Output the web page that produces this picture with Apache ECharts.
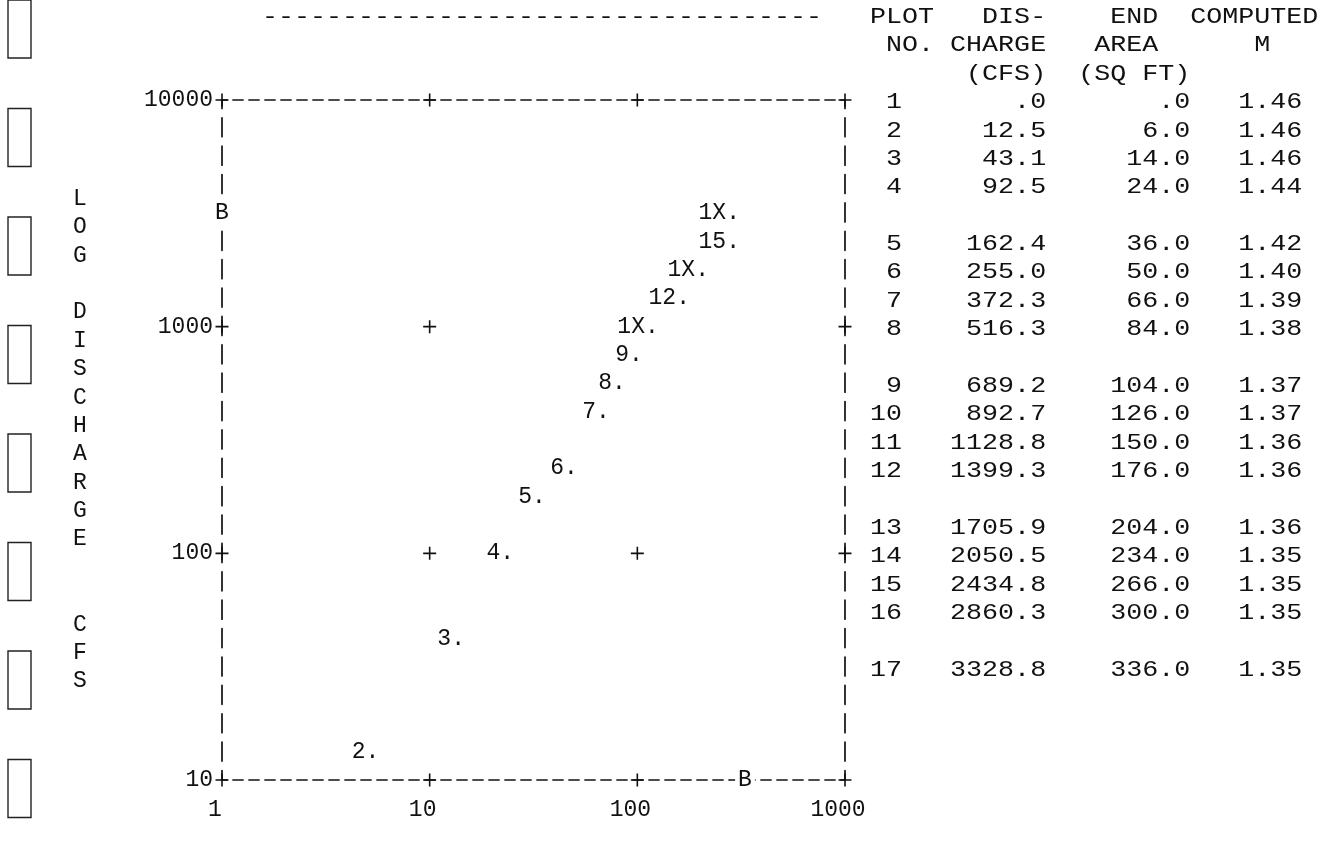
<!DOCTYPE html>
<html>
<head>
<meta charset="utf-8">
<title>Log discharge vs end area</title>
<script src="https://cdn.jsdelivr.net/npm/echarts@6/dist/echarts.min.js"></script>
<style>
    html, body { margin: 0; padding: 0; background: #fff; }
    #main { width: 1333px; height: 849px; }
</style>
</head>
<body>
<div id="main"></div>
<script>
// table printed to the right of the plot
var plotNo = [1, 2, 3, 4, 5, 6, 7, 8, 9, 10, 11, 12, 13, 14, 15, 16, 17];
var discharge = [0, 12.5, 43.1, 92.5, 162.4, 255.0, 372.3, 516.3, 689.2, 892.7, 1128.8, 1399.3, 1705.9, 2050.5, 2434.8, 2860.3, 3328.8];
var endArea = [0, 6.0, 14.0, 24.0, 36.0, 50.0, 66.0, 84.0, 104.0, 126.0, 150.0, 176.0, 204.0, 234.0, 266.0, 300.0, 336.0];
var computedM = [1.46, 1.46, 1.46, 1.44, 1.42, 1.40, 1.39, 1.38, 1.37, 1.37, 1.36, 1.36, 1.36, 1.35, 1.35, 1.35, 1.35];

// symbols as printed on the plot (end area, discharge)
var markText = ['2.', '3.', '4.', '5.', '6.', '7.', '8.', '9.', '1X.', '12.', '1X.', '15.', '1X.'];
var markArea = [5.3, 13.7, 23.6, 33.6, 47.9, 68.3, 81.5, 98.5, 117.5, 166, 205, 289, 289];
var markQ = [13.3, 42, 100, 178, 237, 422, 562, 750, 1000, 1334, 1778, 2371, 3162];

// bank marks on the axes
var bankArea = [1, 330];
var bankQ = [3162, 10];

var xTicks = [1, 10, 100, 1000];
var yTicks = [10, 100, 1000, 10000];
// inner '+' that are not overprinted
var innerCross = [[10, 100], [10, 1000], [100, 100]];

var FONT = 'Liberation Mono';
var INK = '#111';
var ROW = 28.38;

function f1(v) {
    var s = v.toFixed(1);
    return s.charAt(0) === '0' ? s.slice(1) : s;
}
function pad(s, n) {
    s = String(s);
    while (s.length < n) s = ' ' + s;
    return s;
}
function rep(ch, n) {
    var s = '';
    for (var i = 0; i < n; i++) s += ch;
    return s;
}

// printout lines (the leading part sits over the plot's columns)
var lead = rep(' ', 38);
var lines = [
    rep('-', 35) + '   ' + 'PLOT   DIS-    END  COMPUTED',
    lead + ' NO. CHARGE   AREA      M',
    lead + '      (CFS)  (SQ FT)'
];
for (var i = 0; i < plotNo.length; i++) {
    lines.push(lead + pad(plotNo[i], 2) + pad(f1(discharge[i]), 9) + pad(f1(endArea[i]), 9) + pad(computedM[i].toFixed(2), 7));
    if ((i + 1) % 4 === 0 && i < plotNo.length - 1) lines.push('');
}

var crosses = [];
xTicks.forEach(function (x) {
    crosses.push([x, yTicks[0]]);
    crosses.push([x, yTicks[yTicks.length - 1]]);
});
yTicks.slice(1, -1).forEach(function (y) {
    crosses.push([xTicks[0], y]);
    crosses.push([xTicks[xTicks.length - 1], y]);
});
innerCross.forEach(function (p) { crosses.push(p); });

var marks = markText.map(function (t, k) { return [markArea[k], markQ[k], t]; });
var banks = bankArea.map(function (a, k) { return [a, bankQ[k], 'B']; });

var holes = [];
for (var h = 0; h < 8; h++) {
    holes.push({
        type: 'rect',
        shape: { x: 8, y: h * 108.5, width: 23, height: 58 },
        style: { fill: '#fff', stroke: '#222', lineWidth: 1.4 },
        silent: true
    });
}

var hLine = { show: true, lineStyle: { color: INK, width: 1.7, type: [10, 6], dashOffset: 5 } };
var vLine = { show: true, lineStyle: { color: INK, width: 1.7, type: [19, 9.38], dashOffset: 9.5 } };

function axisText(v) {
    return String(Math.round(v));
}

var myChart = echarts.init(document.getElementById('main'));
var option = {
    backgroundColor: '#fff',
    animation: false,
    grid: { left: 222, top: 100, width: 623, height: 680, containLabel: false, outerBoundsMode: 'none' },
    xAxis: [
        {
            type: 'log', logBase: 10, min: 1, max: 1000, position: 'bottom',
            axisLine: hLine,
            axisTick: { show: false },
            splitLine: { show: false },
            axisLabel: {
                fontFamily: FONT, fontSize: 23, color: INK, margin: 18,
                padding: [0, 14, 0, 0], showMinLabel: true, showMaxLabel: true,
                formatter: axisText
            }
        },
        {
            type: 'log', logBase: 10, min: 1, max: 1000, position: 'top',
            axisLine: hLine,
            axisTick: { show: false },
            splitLine: { show: false },
            axisLabel: { show: false }
        }
    ],
    yAxis: [
        {
            type: 'log', logBase: 10, min: 10, max: 10000, position: 'left',
            axisLine: vLine,
            axisTick: { show: false },
            splitLine: { show: false },
            axisLabel: {
                fontFamily: FONT, fontSize: 23, color: INK, margin: 9,
                showMinLabel: true, showMaxLabel: true,
                formatter: axisText
            },
            name: 'LOG DISCHARGE  CFS'.split('').join('\n'),
            nameLocation: 'middle',
            nameRotate: 0,
            nameGap: 142,
            nameTextStyle: {
                fontFamily: FONT, fontSize: 23, color: INK, lineHeight: ROW,
                align: 'center', verticalAlign: 'middle', padding: [0, 0, 28, 0]
            }
        },
        {
            type: 'log', logBase: 10, min: 10, max: 10000, position: 'right',
            axisLine: vLine,
            axisTick: { show: false },
            splitLine: { show: false },
            axisLabel: { show: false }
        }
    ],
    graphic: holes.concat([
        {
            type: 'text',
            x: 262, y: 3,
            scaleX: 16 / 13.2,
            silent: true,
            style: {
                text: lines.join('\n'),
                fontFamily: FONT, fontSize: 22, lineHeight: ROW,
                fill: INK, align: 'left', verticalAlign: 'top'
            }
        }
    ]),
    series: [
        {
            name: 'ticks',
            type: 'scatter',
            data: crosses,
            clip: false,
            silent: true,
            symbol: 'path://M5.7,0H7.3V5.7H13V7.3H7.3V13H5.7V7.3H0V5.7H5.7Z',
            symbolSize: 13,
            itemStyle: { color: INK, opacity: 1 }
        },
        {
            name: 'points',
            type: 'scatter',
            data: marks,
            clip: false,
            silent: true,
            symbolSize: 0,
            itemStyle: { color: INK, opacity: 1 },
            label: {
                show: true,
                position: 'inside',
                align: 'right',
                offset: [6.9, 0],
                fontFamily: FONT, fontSize: 23, color: INK,
                textBorderWidth: 0,
                formatter: function (p) { return p.value[2]; }
            }
        },
        {
            name: 'bank',
            type: 'scatter',
            data: banks,
            clip: false,
            silent: true,
            symbolSize: 0,
            itemStyle: { color: INK, opacity: 1 },
            label: {
                show: true,
                position: 'inside',
                fontFamily: FONT, fontSize: 23, color: INK,
                textBorderWidth: 0,
                backgroundColor: '#fff', padding: [1, 3],
                formatter: function (p) { return p.value[2]; }
            }
        }
    ]
};
myChart.setOption(option);
</script>
</body>
</html>
